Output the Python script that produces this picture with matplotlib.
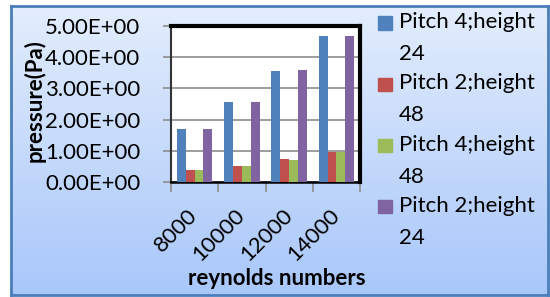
import numpy as np
import matplotlib
matplotlib.use("Agg")
import matplotlib.pyplot as plt
import matplotlib.transforms as mtransforms
from matplotlib.patches import Rectangle

categories = ["8000", "10000", "12000", "14000"]
series_names = ["Pitch 4;height\n24", "Pitch 2;height\n48", "Pitch 4;height\n48", "Pitch 2;height\n24"]
p4h24 = [1.70, 2.56, 3.56, 4.68]
p2h48 = [0.38, 0.52, 0.74, 0.95]
p4h48 = [0.40, 0.52, 0.72, 0.96]
p2h24 = [1.69, 2.55, 3.58, 4.68]
colors = ["#4f81bd", "#c0504d", "#9bbb59", "#8064a2"]
yticks = [0, 1, 2, 3, 4, 5]
ytick_labels = ["0.00E+00", "1.00E+00", "2.00E+00", "3.00E+00", "4.00E+00", "5.00E+00"]

plt.rcParams['font.family'] = ['Lato', 'DejaVu Sans']
FS = 16

W, H = 550, 297
fig = plt.figure(figsize=(W/100, H/100), dpi=100)

# gradient background
bg = fig.add_axes([11/W, 1-295/H, 537/W, 289/H], zorder=-10)
grad = np.linspace(0, 1, 256).reshape(-1, 1)
top = np.array([0.89, 0.93, 0.99])
bot = np.array([0.66, 0.78, 0.98])
img = top[None, None, :] * (1-grad[:, :, None]) + bot[None, None, :] * grad[:, :, None]
bg.imshow(img, aspect='auto', extent=[0, 1, 0, 1])
bg.set_xlim(0, 1); bg.set_ylim(0, 1)
bg.set_xticks([]); bg.set_yticks([])
for s in bg.spines.values():
    s.set_color("#4a7ebb"); s.set_linewidth(2)

ax = fig.add_axes([171/W, 1-182/H, 189/W, 156/H])
ax.set_facecolor("white")
series = [p4h24, p2h48, p4h48, p2h24]
x = np.arange(len(categories))
bw = 0.1875
for i, (vals, c) in enumerate(zip(series, colors)):
    ax.bar(x + (i-1.5)*bw, vals, bw, color=c, zorder=3)
ax.set_xlim(-0.5, 3.5)
ax.set_ylim(0, 5)
ax.set_yticks(yticks)
ax.set_yticklabels(ytick_labels, fontsize=FS)
ax.yaxis.grid(True, color="#8c8c8c", linewidth=1.2, zorder=0)
ax.set_xticks(x)
ax.set_xticklabels(categories, rotation=45, fontsize=FS, ha='right', va='center', rotation_mode='anchor')
offset = mtransforms.ScaledTranslation(-9/100, 0, fig.dpi_scale_trans)
for lbl in ax.get_xticklabels():
    lbl.set_transform(lbl.get_transform() + offset)
ax.set_xticks([-0.5, 0.5, 1.5, 2.5, 3.5], minor=True)
ax.tick_params(axis='x', which='major', length=0, pad=22)
ax.tick_params(axis='x', which='minor', length=7, width=1.2, color="#8c8c8c")
ax.tick_params(axis='y', length=6, width=1.2, color="#8c8c8c", pad=16)
for side in ['top', 'right']:
    ax.spines[side].set_linewidth(3)
    ax.spines[side].set_color('black')
ax.spines['bottom'].set_linewidth(1.8)
ax.spines['left'].set_linewidth(1.5)
ax.spines['left'].set_color('#333333')
ax.set_ylabel("pressure(Pa)", fontsize=FS, fontweight='bold')
ax.yaxis.set_label_coords(-0.661, 0.52)
ax.set_xlabel("reynolds numbers", fontsize=FS, fontweight='bold')
ax.xaxis.set_label_coords(0.56, -0.55)

# legend (manual, Excel-like: handle aligned with first line)
for i, (nm, c) in enumerate(zip(series_names, colors)):
    yc = 23 + i*61.3
    fig.add_artist(Rectangle((378/W, 1-(yc+6.5)/H), 14/W, 13/H, color=c,
                             transform=fig.transFigure))
    fig.text(399/W, 1-(yc-11)/H, nm, fontsize=FS, va='top', ha='left', linespacing=1.75)

fig.savefig("out.png", dpi=100)
